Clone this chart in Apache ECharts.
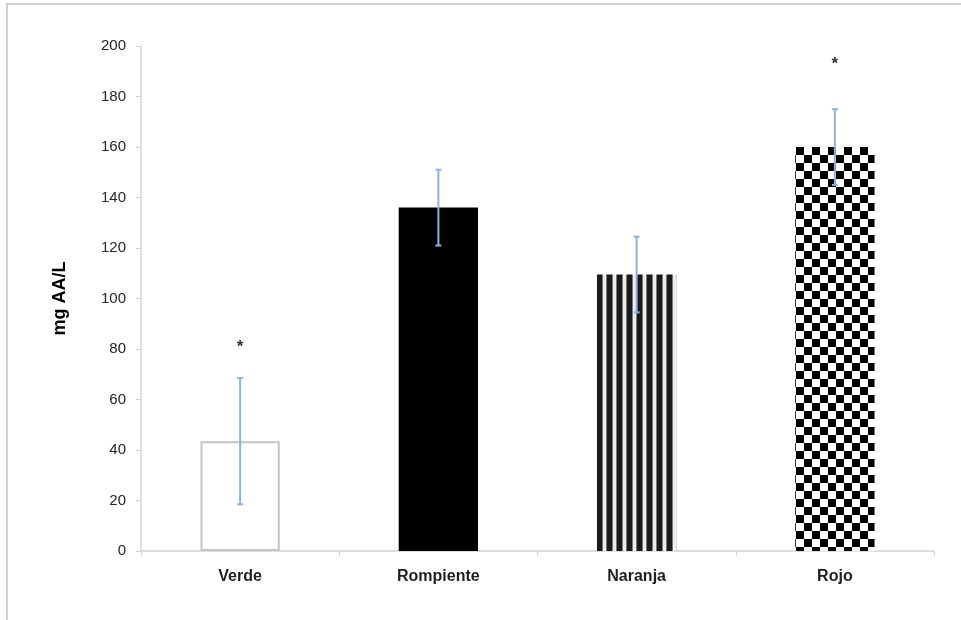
<!DOCTYPE html>
<html>
<head>
<meta charset="utf-8">
<script src="https://cdn.jsdelivr.net/npm/echarts@6/dist/echarts.min.js"></script>
<style>
  html, body { margin: 0; padding: 0; background: #fff; }
  #chart { width: 961px; height: 620px; }
</style>
</head>
<body>
<div id="chart"></div>
<script>
// datos
const categories = ['Verde', 'Rompiente', 'Naranja', 'Rojo']
const means = [43.5, 136, 109.5, 160]
const errors = [25, 15, 15, 15]
// asteriscos de significancia (posicion en el eje y)
const sigMarks = [82, null, null, 194]
const yTicks = { min: 0, max: 200, interval: 20 }

// patrones de relleno
const makeStripes = () => {
  const c = document.createElement('canvas')
  c.width = 10
  c.height = 4
  const ctx = c.getContext('2d')
  ctx.fillStyle = '#ededed'
  ctx.fillRect(0, 0, 10, 4)
  ctx.fillStyle = '#1a1a1a'
  ctx.fillRect(0, 0, 5, 4)
  ctx.fillStyle = '#7a7a7a'
  ctx.fillRect(5, 0, 1, 4)
  ctx.fillRect(9, 0, 1, 4)
  return c
}
const makeChecker = () => {
  const c = document.createElement('canvas')
  c.width = 16
  c.height = 16
  const ctx = c.getContext('2d')
  ctx.fillStyle = '#fff'
  ctx.fillRect(0, 0, 16, 16)
  ctx.fillStyle = '#000'
  ctx.fillRect(0, 0, 8, 8)
  ctx.fillRect(8, 8, 8, 8)
  return c
}

const barStyles = [
  { color: '#fff', borderColor: '#c4c4c4', borderWidth: 2 },
  { color: '#000' },
  { color: { image: makeStripes(), repeat: 'repeat', x: 597, y: 0 } },
  { color: { image: makeChecker(), repeat: 'repeat', x: 796, y: 147 } },
]

const chart = echarts.init(document.getElementById('chart'))
const option = {
  animation: false,
  textStyle: { fontFamily: 'Liberation Sans' },
  graphic: [
    {
      type: 'rect',
      shape: { x: 7, y: 4, width: 1000, height: 1000 },
      style: { fill: 'none', stroke: '#d0d0d0', lineWidth: 2 },
      silent: true,
    },
  ],
  grid: { left: 141, right: 27, top: 46, bottom: 69 },
  xAxis: {
    type: 'category',
    data: categories,
    axisLine: { lineStyle: { color: '#d4d4d4', width: 1.5 } },
    axisTick: { show: true, alignWithLabel: false, length: 5, lineStyle: { color: '#d4d4d4' } },
    axisLabel: { color: '#1f1f1f', fontWeight: 'bold', fontSize: 16, margin: 18 },
  },
  yAxis: {
    type: 'value',
    min: yTicks.min,
    max: yTicks.max,
    interval: yTicks.interval,
    name: 'mg AA/L',
    nameLocation: 'middle',
    nameGap: 72,
    nameTextStyle: { fontWeight: 'bold', fontSize: 18, color: '#000' },
    axisLine: { show: true, lineStyle: { color: '#d4d4d4', width: 1.5 } },
    axisTick: { show: true, length: 5, lineStyle: { color: '#d4d4d4' } },
    axisLabel: { color: '#262626', fontSize: 15, margin: 15 },
    splitLine: { show: false },
  },
  series: [
    {
      type: 'bar',
      barWidth: '40%',
      data: means.map((v, i) => ({ value: v, itemStyle: barStyles[i] })),
    },
    {
      type: 'custom',
      z: 5,
      data: means.map((v, i) => [i, v - errors[i], v + errors[i]]),
      renderItem: (params, api) => {
        const lo = api.coord([api.value(0), api.value(1)])
        const hi = api.coord([api.value(0), api.value(2)])
        const w = 3
        const style = { stroke: '#8db3e2', lineWidth: 2 }
        return {
          type: 'group',
          children: [
            { type: 'line', shape: { x1: hi[0], y1: hi[1], x2: lo[0], y2: lo[1] }, style },
            { type: 'line', shape: { x1: hi[0] - w, y1: hi[1], x2: hi[0] + w, y2: hi[1] }, style },
            { type: 'line', shape: { x1: lo[0] - w, y1: lo[1], x2: lo[0] + w, y2: lo[1] }, style },
          ],
        }
      },
    },
    {
      type: 'custom',
      z: 6,
      data: sigMarks.map((v, i) => (v == null ? [i, '-'] : [i, v])),
      renderItem: (params, api) => {
        if (isNaN(api.value(1))) return null
        const p = api.coord([api.value(0), api.value(1)])
        return {
          type: 'text',
          style: {
            x: p[0],
            y: p[1] + 3,
            text: '*',
            fill: '#333',
            font: 'bold 17px Liberation Sans',
            align: 'center',
            verticalAlign: 'middle',
          },
        }
      },
    },
  ],
}
chart.setOption(option)
</script>
</body>
</html>
